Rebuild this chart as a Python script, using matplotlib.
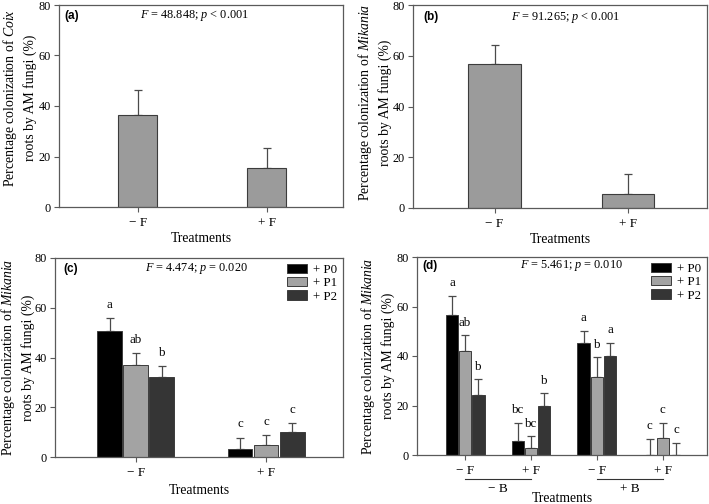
import matplotlib
matplotlib.use("Agg")
import matplotlib.pyplot as plt
import numpy as np

plt.rcParams['font.family'] = ['Liberation Serif', 'DejaVu Serif']
plt.rcParams['mathtext.fontset'] = 'custom'
plt.rcParams['mathtext.rm'] = 'Liberation Serif'
plt.rcParams['mathtext.it'] = 'Liberation Serif:italic'
plt.rcParams['mathtext.bf'] = 'Liberation Serif:bold'

# ---------------- data ----------------
treat = ["\u2212 F", "+ F"]
treat_d = ["\u2212 F", "+ F", "\u2212 F", "+ F"]
b_groups = ["\u2212 B", "+ B"]
series = ["+ P0", "+ P1", "+ P2"]

a_mean = [36.6, 15.5]
a_err = [9.7, 7.9]
b_mean = [56.7, 5.5]
b_err = [7.6, 7.9]

c_p0 = [50.8, 3.1]
c_p1 = [37.1, 4.7]
c_p2 = [32.2, 10.2]
c_p0_err = [5.0, 4.7]
c_p1_err = [4.7, 4.1]
c_p2_err = [4.3, 3.3]
c_p0_let = ["a", "c"]
c_p1_let = ["ab", "c"]
c_p2_let = ["b", "c"]

d_p0 = [56.6, 5.5, 45.1, 0.0]
d_p1 = [42.2, 2.8, 31.5, 6.9]
d_p2 = [24.3, 20.0, 40.2, 0.0]
d_p0_err = [7.8, 7.5, 5.2, 6.6]
d_p1_err = [6.2, 4.7, 7.9, 6.2]
d_p2_err = [6.3, 5.0, 5.2, 4.9]
d_p0_let = ["a", "bc", "a", "c"]
d_p1_let = ["ab", "bc", "b", "c"]
d_p2_let = ["b", "b", "a", "c"]

stats = ["$F$ = 48.848; $p$ < 0.001", "$F$ = 91.265; $p$ < 0.001",
         "$F$ = 4.474; $p$ = 0.020", "$F$ = 5.461; $p$ = 0.010"]
panels = ["(a)", "(b)", "(c)", "(d)"]
ylab_coix = "Percentage colonization of $\\mathit{Coix}$\nroots by AM fungi (%)"
ylab_mik = "Percentage colonization of $\\mathit{Mikania}$\nroots by AM fungi (%)"

# ---------------- style ----------------
W, H = 709, 504
fig = plt.figure(figsize=(W / 100, H / 100), dpi=100)

def px_axes(l, r, t, b):
    return fig.add_axes([l / W, 1 - b / H, (r - l) / W, (b - t) / H])

SPINE = '#5a5a5a'
GRAY = '#9b9b9b'
EDGE = '#3c3c3c'
ERR = '#4a4a4a'
COLS = ['#000000', '#a3a3a3', '#353535']
TICKFS = 9.5

def style(ax, xlim):
    ax.set_ylim(0, 80)
    ax.set_xlim(*xlim)
    ax.set_yticks([0, 20, 40, 60, 80])
    for s in ax.spines.values():
        s.set_color(SPINE)
        s.set_linewidth(0.9)
    ax.tick_params(direction='out', length=3.5, width=0.8, color=SPINE, pad=2.5)
    ax.tick_params(axis='x', pad=3.5, labelsize=TICKFS)
    ax.tick_params(axis='y', labelsize=8.8)

def headers(ax, i, sx, sy, lx, ly):
    ax.text(sx, sy, stats[i], transform=ax.transAxes, ha='center', va='center',
            fontsize=8.8)
    ax.text(lx, ly, panels[i], transform=ax.transAxes, ha='left', va='center',
            fontsize=8.5, fontweight='bold', family='Liberation Sans')

def labels(ax, ylab, yx, yy, xly):
    ax.set_ylabel(ylab, fontsize=9.9, va='center', linespacing=1.4)
    ax.yaxis.set_label_coords(yx, yy)
    ax.set_xlabel("Treatments", fontsize=9.8, va='center')
    ax.xaxis.set_label_coords(0.5, xly)

# ---------------- (a) ----------------
ax = px_axes(59, 343, 5, 207)
x = np.arange(len(treat))
ax.bar(x, a_mean, width=0.30, color=GRAY, edgecolor=EDGE, linewidth=0.8, zorder=2)
ax.errorbar(x, a_mean, yerr=[np.zeros(len(x)), a_err], fmt='none', ecolor=ERR,
            elinewidth=0.9, capsize=3, capthick=0.9, zorder=1)
style(ax, (-0.61, 1.59))
ax.set_xticks(x)
ax.set_xticklabels(treat)
headers(ax, 0, 0.475, 0.946, 0.02, 0.946)
labels(ax, ylab_coix, -0.142, 0.54, -0.158)

# ---------------- (b) ----------------
ax = px_axes(413, 707, 5, 208)
ax.bar(x, b_mean, width=0.39, color=GRAY, edgecolor=EDGE, linewidth=0.8, zorder=2)
ax.errorbar(x, b_mean, yerr=[np.zeros(len(x)), b_err], fmt='none', ecolor=ERR,
            elinewidth=0.9, capsize=3, capthick=0.9, zorder=1)
style(ax, (-0.61, 1.59))
ax.set_xticks(x)
ax.set_xticklabels(treat)
headers(ax, 1, 0.517, 0.94, 0.034, 0.94)
labels(ax, ylab_mik, -0.133, 0.52, -0.153)

# ---------------- grouped helper ----------------
def grouped(ax, means, errs, lets, off):
    n = len(means[0])
    x = np.arange(n)
    for k, (m, e, l) in enumerate(zip(means, errs, lets)):
        xs = x + (k - 1) * 0.2
        ax.bar(xs, m, width=0.19, color=COLS[k], edgecolor=EDGE, linewidth=0.7,
               zorder=2, label=series[k])
        ax.errorbar(xs, m, yerr=[np.zeros(n), e], fmt='none', ecolor=ERR,
                    elinewidth=0.9, capsize=2.6, capthick=0.9, zorder=1)
        for xi, mi, ei, li in zip(xs, m, e, l):
            ax.text(xi, mi + ei + off, li, ha='center', va='center', fontsize=9.3)
    return x

def legend(ax):
    ax.legend(loc='upper right', frameon=False, fontsize=9.3, handlelength=1.5,
              handleheight=0.7, labelspacing=0.1, handletextpad=0.5,
              borderaxespad=0.25, borderpad=0.2)

# ---------------- (c) ----------------
ax = px_axes(55, 343, 258, 457)
xc = grouped(ax, [c_p0, c_p1, c_p2], [c_p0_err, c_p1_err, c_p2_err],
             [c_p0_let, c_p1_let, c_p2_let], 5.3)
style(ax, (-0.62, 1.59))
ax.set_xticks(xc)
ax.set_xticklabels(treat)
headers(ax, 2, 0.49, 0.945, 0.028, 0.945)
labels(ax, ylab_mik, -0.131, 0.5, -0.166)
legend(ax)

# ---------------- (d) ----------------
ax = px_axes(417, 707, 257, 455)
xd = grouped(ax, [d_p0, d_p1, d_p2], [d_p0_err, d_p1_err, d_p2_err],
             [d_p0_let, d_p1_let, d_p2_let], 5.0)
style(ax, (-0.73, 3.67))
ax.set_xticks(xd)
ax.set_xticklabels(treat_d)
headers(ax, 3, 0.534, 0.955, 0.02, 0.955)
labels(ax, ylab_mik, -0.137, 0.5, -0.222)
legend(ax)
trans = ax.get_xaxis_transform()
for g, name in enumerate(b_groups):
    x0, x1 = xd[2 * g], xd[2 * g + 1]
    ax.plot([x0, x1], [-0.121, -0.121], transform=trans, color='#333333',
            linewidth=0.8, clip_on=False)
    ax.text((x0 + x1) / 2, -0.172, name, transform=trans, ha='center',
            va='center', fontsize=TICKFS)

fig.savefig("out.png", dpi=100)
